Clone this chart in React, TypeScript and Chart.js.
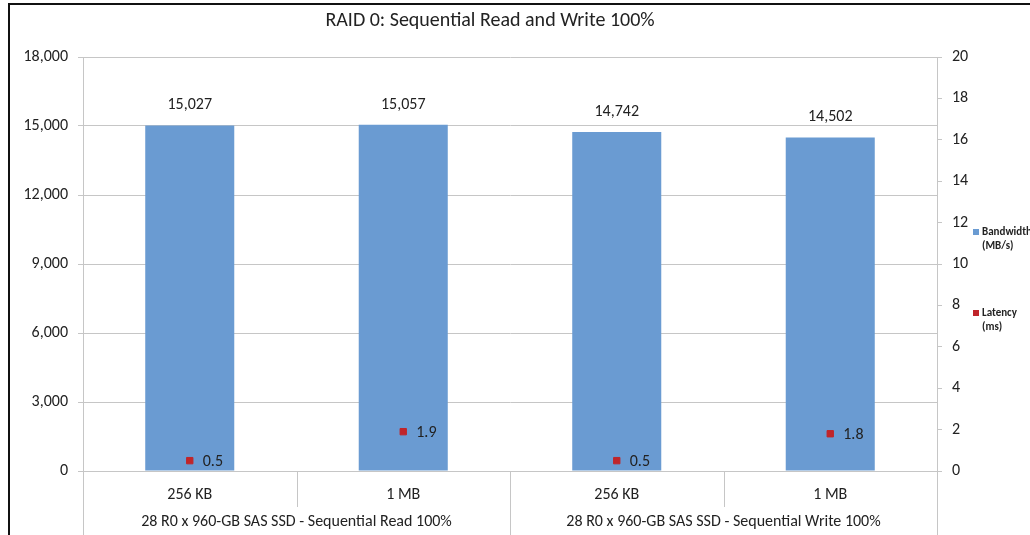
import React, { useEffect, useRef } from "react";
import { Chart, registerables } from "chart.js";

Chart.register(...registerables);

const categories = ["256 KB", "1 MB", "256 KB", "1 MB"];
const groups = ["28 R0 x 960-GB SAS SSD - Sequential Read 100%", "28 R0 x 960-GB SAS SSD - Sequential Write 100%"];
const bandwidth = [15027, 15057, 14742, 14502];
const latency = [0.5, 1.9, 0.5, 1.8];
const seriesNames = ["Bandwidth (MB/s)", "Latency (ms)"];
const titleText = "RAID 0: Sequential Read and Write 100%";

const FONT = "Carlito, 'Liberation Sans Narrow', 'Open Sans', sans-serif";
const BLUE = "#6a9bd2";
const RED = "#c0252a";
const GRID = "#c6c6c6";

const fmt = (v: number) => v.toLocaleString("en-US");

const drawPlugin = {
  id: "custom",
  beforeDraw(chart: any) {
    const ctx = chart.ctx;
    ctx.save();
    ctx.strokeStyle = "#111";
    ctx.lineWidth = 2;
    ctx.strokeRect(9, 4, 1100, 600);
    ctx.restore();
  },
  afterDraw(chart: any) {
    const ctx = chart.ctx;
    const area = chart.chartArea;
    ctx.save();
    // title
    ctx.fillStyle = "#222";
    ctx.font = `20px ${FONT}`;
    ctx.textAlign = "center";
    ctx.textBaseline = "middle";
    ctx.fillText(titleText, 490, 21);

    // value labels on bars
    const barMeta = chart.getDatasetMeta(0);
    ctx.font = `16px ${FONT}`;
    ctx.fillStyle = "#222";
    barMeta.data.forEach((el: any, i: number) => {
      ctx.fillText(fmt(bandwidth[i]), el.x, el.y - 20);
    });
    // latency labels
    const latMeta = chart.getDatasetMeta(1);
    ctx.textAlign = "left";
    latMeta.data.forEach((el: any, i: number) => {
      ctx.fillText(latency[i].toFixed(1), el.x + 13, el.y + 1);
    });

    // category dividers
    const n = categories.length;
    const w = (area.right - area.left) / n;
    ctx.strokeStyle = GRID;
    ctx.lineWidth = 1;
    for (let i = 0; i <= n; i++) {
      const x = Math.round(area.left + i * w) + 0.5;
      const yEnd = i === 0 || i === n || i === n / 2 ? 540 : 507;
      ctx.beginPath();
      ctx.moveTo(x, area.bottom);
      ctx.lineTo(x, yEnd);
      ctx.stroke();
    }
    // group labels
    ctx.textAlign = "center";
    ctx.font = `16px ${FONT}`;
    ctx.fillStyle = "#222";
    groups.forEach((g, gi) => {
      const cx = area.left + (gi * 2 + 1) * w;
      ctx.fillText(g, cx, 522);
    });

    // legend
    ctx.textAlign = "left";
    ctx.font = `bold 11px ${FONT}`;
    const legend = [
      { color: BLUE, y: 232 },
      { color: RED, y: 313 },
    ];
    legend.forEach((l, i) => {
      ctx.fillStyle = l.color;
      ctx.fillRect(973, l.y - 3, 6, 6);
      ctx.fillStyle = "#222";
      const words = seriesNames[i].split(" ");
      ctx.fillText(words[0], 982, l.y);
      ctx.fillText(words[1], 982, l.y + 14);
    });
    ctx.restore();
  },
};

export default function App() {
  const ref = useRef<HTMLCanvasElement>(null);
  useEffect(() => {
    document.body.style.margin = "0";
    const chart = new Chart(ref.current!, {
      type: "bar",
      data: {
        labels: categories,
        datasets: [
          {
            type: "bar",
            label: seriesNames[0],
            data: bandwidth,
            backgroundColor: BLUE,
            yAxisID: "y",
            categoryPercentage: 1,
            barPercentage: 0.417,
            order: 2,
          },
          {
            type: "line",
            label: seriesNames[1],
            data: latency,
            yAxisID: "y1",
            showLine: false,
            pointStyle: "rect",
            pointRadius: 4.5,
            pointBackgroundColor: RED,
            pointBorderColor: RED,
            borderColor: RED,
            backgroundColor: RED,
            order: 1,
          } as any,
        ],
      },
      options: {
        animation: false,
        responsive: false,
        maintainAspectRatio: false,
        layout: { padding: { top: 57, left: 0, right: 60, bottom: 0 } },
        plugins: { legend: { display: false }, title: { display: false }, tooltip: { enabled: false } },
        scales: {
          x: {
            grid: { display: false },
            border: { display: false },
            ticks: { color: "#222", font: { family: FONT, size: 16 }, padding: 6 },
            afterFit: (s: any) => { s.height = 64; },
          },
          y: {
            position: "left",
            min: 0,
            max: 18000,
            ticks: { stepSize: 3000, color: "#222", font: { family: FONT, size: 16 }, padding: 10, callback: (v: any) => fmt(Number(v)) },
            grid: { color: GRID, tickLength: 5 },
            border: { color: GRID },
            afterFit: (s: any) => { s.width = 83; },
          },
          y1: {
            position: "right",
            min: 0,
            max: 20,
            ticks: { stepSize: 2, color: "#222", font: { family: FONT, size: 16 }, padding: 10 },
            grid: { drawOnChartArea: false, color: GRID, tickLength: 5 },
            border: { color: GRID },
            afterFit: (s: any) => { s.width = 33; },
          },
        },
      },
      plugins: [drawPlugin],
    });
    return () => chart.destroy();
  }, []);
  return (
    <div style={{ position: "absolute", left: 0, top: 0, width: 1030, height: 535, background: "#fff" }}>
      <canvas ref={ref} width={1030} height={535} style={{ width: 1030, height: 535 }} />
    </div>
  );
}
